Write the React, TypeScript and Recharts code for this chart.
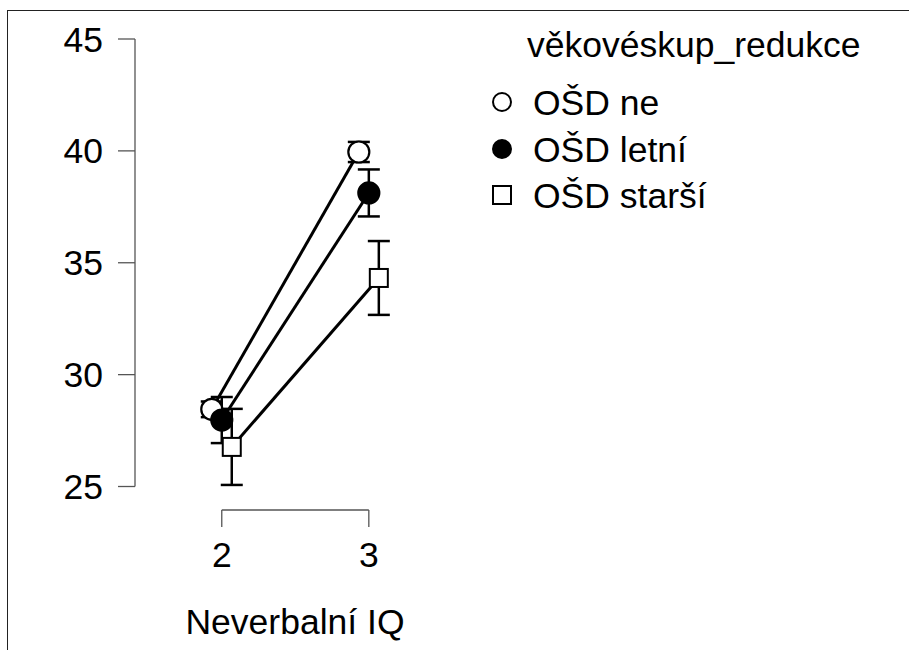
import React from "react";
import { ComposedChart, Scatter, XAxis, YAxis, ErrorBar, ReferenceLine, Label } from "recharts";

const X_CATS = [2, 3];
const Y_TICKS = [25, 30, 35, 40, 45];
const SERIES_NAMES = ["OŠD ne", "OŠD letní", "OŠD starší"];
const NE_MEAN = [28.45, 39.95];
const NE_ERR = [0.35, 0.45];
const LETNI_MEAN = [27.97, 38.12];
const LETNI_ERR = [1.03, 1.05];
const STARSI_MEAN = [26.77, 34.32];
const STARSI_ERR = [1.7, 1.65];

const FONT = "'Liberation Sans', Arial, sans-serif";
const FS = 35.5;
const AXIS = "#555";
// axis ranges chosen so 2 and 3 land where R put them
const X_MIN = 1.41;
const X_MAX = 6;
const Y_LO = 23.95;
const DODGE = 0.068;

const pts = (means: number[], errs: number[], shift: number) =>
  X_CATS.map((x, i) => ({ x: x + shift, y: means[i], err: errs[i] }));

const neData = pts(NE_MEAN, NE_ERR, -DODGE);
const letniData = pts(LETNI_MEAN, LETNI_ERR, 0);
const starsiData = pts(STARSI_MEAN, STARSI_ERR, DODGE);

const OpenCircle = (p: any) => (
  <circle cx={p.cx} cy={p.cy} r={10.5} fill="#fff" stroke="#000" strokeWidth={2.2} />
);
const FilledCircle = (p: any) => (
  <circle cx={p.cx} cy={p.cy} r={10.5} fill="#000" stroke="#000" strokeWidth={2.2} />
);
const OpenSquare = (p: any) => (
  <rect x={p.cx - 9} y={p.cy - 9} width={18} height={18} fill="#fff" stroke="#000" strokeWidth={2} />
);

const LEGEND_ROWS = [102, 149, 195];

function LegendBox() {
  const sym = [
    <circle cx={502} cy={LEGEND_ROWS[0]} r={9} fill="#fff" stroke="#000" strokeWidth={2} />,
    <circle cx={502} cy={LEGEND_ROWS[1]} r={9} fill="#000" stroke="#000" strokeWidth={2} />,
    <rect x={493} y={LEGEND_ROWS[2] - 9} width={18} height={18} fill="#fff" stroke="#000" strokeWidth={2} />,
  ];
  return (
    <svg width={909} height={650} style={{ position: "absolute", left: 0, top: 0, pointerEvents: "none" }}>
      <text x={527} y={57} fontSize={FS} fontFamily={FONT} fill="#000">
        věkovéskup_redukce
      </text>
      {SERIES_NAMES.map((n, i) => (
        <g key={n}>
          {sym[i]}
          <text x={533} y={LEGEND_ROWS[i] + 12.5} fontSize={FS} fontFamily={FONT} fill="#000">
            {n}
          </text>
        </g>
      ))}
    </svg>
  );
}

export default function App() {
  return (
    <div style={{ position: "absolute", left: 0, top: 0, width: 909, height: 650, overflow: "hidden", background: "#fff" }}>
      <div
        style={{
          position: "absolute",
          left: 7,
          top: 10,
          width: 1000,
          height: 1000,
          borderLeft: "1.5px solid #222",
          borderTop: "1.5px solid #222",
        }}
      />
      <div style={{ position: "absolute", left: 0, top: 0 }}>
        <ComposedChart width={909} height={650} margin={{ top: 39, right: 99, bottom: 0, left: 0 }}>
          <XAxis
            type="number"
            dataKey="x"
            domain={[X_MIN, X_MAX]}
            ticks={X_CATS}
            interval={0}
            allowDataOverflow
            axisLine={false}
            tickSize={17}
            tickMargin={15}
            tickLine={{ stroke: AXIS, strokeWidth: 1.3 }}
            tick={{ fill: "#000", fontSize: FS, fontFamily: FONT }}
            height={140}
          >
            <Label
              content={({ viewBox }: any) => (
                <text x={viewBox.x + 160} y={viewBox.y + 124} textAnchor="middle" fontSize={FS} fontFamily={FONT} fill="#000">
                  Neverbalní IQ
                </text>
              )}
            />
          </XAxis>
          <YAxis
            type="number"
            dataKey="y"
            domain={[Y_LO, 45]}
            ticks={Y_TICKS}
            interval={0}
            allowDataOverflow
            axisLine={false}
            tickSize={17}
            tickMargin={15}
            tickLine={{ stroke: AXIS, strokeWidth: 1.3 }}
            tick={{ fill: "#000", fontSize: FS, fontFamily: FONT }}
            width={135}
          />
          <ReferenceLine
            segment={[{ x: X_MIN, y: Y_TICKS[0] }, { x: X_MIN, y: Y_TICKS[Y_TICKS.length - 1] }]}
            stroke={AXIS}
            strokeWidth={1.3}
            ifOverflow="visible"
          />
          <ReferenceLine
            segment={[{ x: X_CATS[0], y: Y_LO }, { x: X_CATS[1], y: Y_LO }]}
            stroke={AXIS}
            strokeWidth={1.3}
            ifOverflow="visible"
          />
          <Scatter name={SERIES_NAMES[0]} data={neData} line={{ stroke: "#000", strokeWidth: 3 }} shape={OpenCircle} isAnimationActive={false}>
            <ErrorBar dataKey="err" direction="y" width={11} stroke="#000" strokeWidth={2.5} isAnimationActive={false} />
          </Scatter>
          <Scatter name={SERIES_NAMES[1]} data={letniData} line={{ stroke: "#000", strokeWidth: 3 }} shape={FilledCircle} isAnimationActive={false}>
            <ErrorBar dataKey="err" direction="y" width={11} stroke="#000" strokeWidth={2.5} isAnimationActive={false} />
          </Scatter>
          <Scatter name={SERIES_NAMES[2]} data={starsiData} line={{ stroke: "#000", strokeWidth: 3 }} shape={OpenSquare} isAnimationActive={false}>
            <ErrorBar dataKey="err" direction="y" width={11} stroke="#000" strokeWidth={2.5} isAnimationActive={false} />
          </Scatter>
        </ComposedChart>
      </div>
      <LegendBox />
    </div>
  );
}
